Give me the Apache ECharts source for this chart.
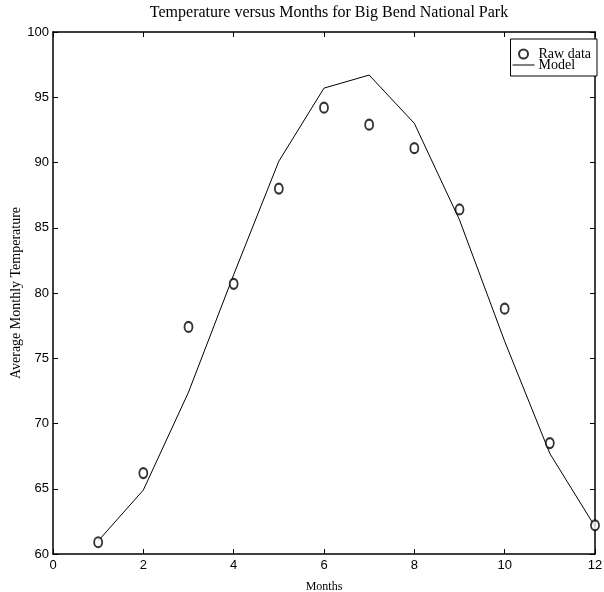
<!DOCTYPE html>
<html>
<head>
<meta charset="utf-8">
<script src="https://cdn.jsdelivr.net/npm/echarts@6/dist/echarts.min.js"></script>
<style>
  html, body { margin: 0; padding: 0; background: #fff; }
  #chart { width: 604px; height: 592px; }
</style>
</head>
<body>
<div id="chart"></div>
<script>
// Monthly temperatures at Big Bend National Park: observations and fitted model
const months = [1, 2, 3, 4, 5, 6, 7, 8, 9, 10, 11, 12];
const rawTemps = [60.9, 66.2, 77.4, 80.7, 88.0, 94.2, 92.9, 91.1, 86.4, 78.8, 68.5, 62.2];
const modelTemps = [61.0, 64.9, 72.4, 81.4, 90.1, 95.7, 96.7, 93.0, 85.6, 76.3, 67.7, 62.1];
const xTicks = [0, 2, 4, 6, 8, 10, 12];
const yTicks = [60, 65, 70, 75, 80, 85, 90, 95, 100];

const serif = '"Liberation Serif", "DejaVu Serif", serif';
const sans = '"Liberation Sans", Arial, sans-serif';

const tickStyle = { show: true, inside: true, length: 5, lineStyle: { color: '#000', width: 1 } };
const frameLine = { show: true, onZero: false, lineStyle: { color: '#000', width: 1.5 } };

const chart = echarts.init(document.getElementById('chart'), null, { renderer: 'canvas' });

chart.setOption({
  animation: false,
  backgroundColor: '#fff',
  title: {
    text: 'Temperature versus Months for Big Bend National Park',
    left: 324,
    textAlign: 'center',
    top: 0,
    textStyle: { fontFamily: serif, fontSize: 16, fontWeight: 'normal', color: '#000' }
  },
  grid: { left: 53, right: 9, top: 32, bottom: 38, containLabel: false, outerBoundsMode: 'none' },
  legend: {
    right: 7,
    top: 39,
    orient: 'vertical',
    backgroundColor: '#fff',
    borderColor: '#000',
    borderWidth: 1,
    padding: [8, 6, 4, 2],
    itemGap: -3,
    itemWidth: 22,
    itemHeight: 9,
    textStyle: { fontFamily: serif, fontSize: 14, lineHeight: 11, color: '#000', padding: [0, 0, 0, -1] },
    data: [
      { name: 'Raw data' },
      { name: 'Model', icon: 'path://M0,0L22,0L22,1L0,1Z' }
    ]
  },
  xAxis: [
    {
      type: 'value',
      min: xTicks[0],
      max: xTicks[xTicks.length - 1],
      interval: 2,
      name: 'Months',
      nameLocation: 'middle',
      nameGap: 27,
      nameTextStyle: { fontFamily: serif, fontSize: 12, color: '#000' },
      axisLine: frameLine,
      axisTick: tickStyle,
      axisLabel: { fontFamily: sans, fontSize: 13, color: '#000', margin: 5 },
      splitLine: { show: false }
    },
    {
      type: 'value',
      position: 'top',
      min: xTicks[0],
      max: xTicks[xTicks.length - 1],
      interval: 2,
      axisLine: frameLine,
      axisTick: tickStyle,
      axisLabel: { show: false },
      splitLine: { show: false }
    }
  ],
  yAxis: [
    {
      type: 'value',
      min: yTicks[0],
      max: yTicks[yTicks.length - 1],
      interval: 5,
      name: 'Average Monthly Temperature',
      nameLocation: 'middle',
      nameGap: 30,
      nameMoveOverlap: false,
      nameTextStyle: { fontFamily: serif, fontSize: 14, color: '#000' },
      axisLine: frameLine,
      axisTick: tickStyle,
      axisLabel: { fontFamily: sans, fontSize: 13, color: '#000', margin: 4 },
      splitLine: { show: false }
    },
    {
      type: 'value',
      position: 'right',
      min: yTicks[0],
      max: yTicks[yTicks.length - 1],
      interval: 5,
      axisLine: frameLine,
      axisTick: tickStyle,
      axisLabel: { show: false },
      splitLine: { show: false }
    }
  ],
  series: [
    {
      name: 'Raw data',
      type: 'scatter',
      xAxisIndex: 0,
      yAxisIndex: 0,
      symbol: 'emptyCircle',
      symbolSize: [8, 10],
      itemStyle: { color: '#000', borderWidth: 0.8 },
      data: months.map((m, i) => [m, rawTemps[i]]),
      z: 3
    },
    {
      name: 'Model',
      type: 'line',
      xAxisIndex: 0,
      yAxisIndex: 0,
      symbol: 'none',
      lineStyle: { color: '#000', width: 1 },
      itemStyle: { color: '#000' },
      data: months.map((m, i) => [m, modelTemps[i]]),
      z: 2
    }
  ]
});
</script>
</body>
</html>
